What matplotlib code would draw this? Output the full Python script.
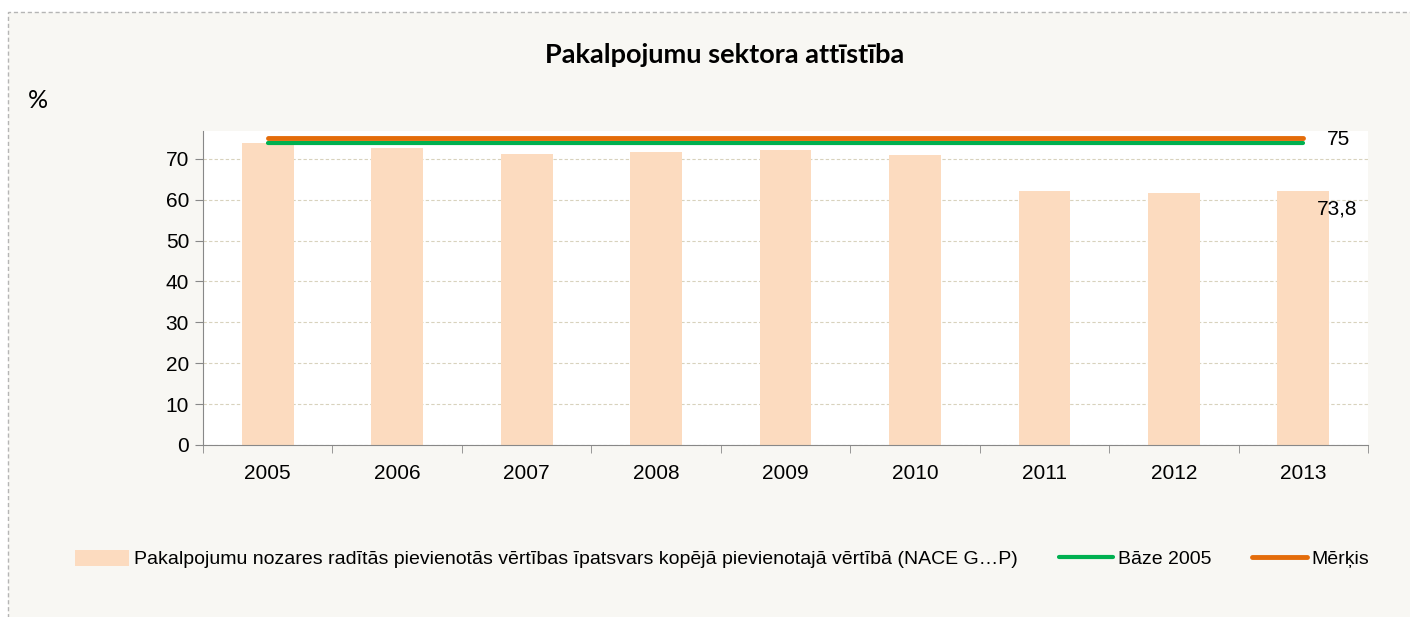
import matplotlib.pyplot as plt
from matplotlib.patches import Rectangle, Patch
from matplotlib.lines import Line2D

# Dati
gadi = ["2005", "2006", "2007", "2008", "2009", "2010", "2011", "2012", "2013"]
ipatsvars = [73.8, 72.6, 71.1, 71.7, 72.2, 71.0, 62.2, 61.7, 62.2]
baze_2005 = [73.8, 73.8, 73.8, 73.8, 73.8, 73.8, 73.8, 73.8, 73.8]
merkis = [75, 75, 75, 75, 75, 75, 75, 75, 75]
y_ticks = [0, 10, 20, 30, 40, 50, 60, 70]

bar_label = "Pakalpojumu nozares radītās pievienotās vērtības īpatsvars kopējā pievienotajā vērtībā (NACE G…P)"

plt.rcParams["font.family"] = ["Liberation Sans", "DejaVu Sans"]
fs = 14

fig = plt.figure(figsize=(14.1, 6.17), dpi=100)
fig.patch.set_facecolor("white")

# fons ar raustītu rāmi
fig.patches.append(Rectangle((8 / 1410, -0.02), 1.05, 1 - 12 / 617 + 0.02,
                             transform=fig.transFigure, facecolor="#f8f7f3",
                             edgecolor="#b5b5b5", linestyle=(0, (3, 2)),
                             linewidth=1, zorder=-5))

ax = fig.add_axes([203 / 1410, 1 - 445 / 617, (1368 - 203) / 1410, (445 - 131) / 617])
ax.set_facecolor("white")

x = list(range(len(gadi)))
ax.bar(x, ipatsvars, width=0.4, color="#fcdbbf", zorder=2)
ax.plot(x, baze_2005, color="#00b050", linewidth=3, solid_capstyle="round", zorder=3)
ax.plot(x, merkis, color="#e46c0a", linewidth=3.5, solid_capstyle="round", zorder=4)

ax.annotate("75", (x[-1], merkis[-1]), xytext=(24, -1), textcoords="offset pixels",
            fontsize=fs + 1, va="center", ha="left", annotation_clip=False)
ax.annotate("73,8", (x[-1], baze_2005[-1]), xytext=(14, -66), textcoords="offset pixels",
            fontsize=fs + 1, va="center", ha="left", annotation_clip=False)

ax.set_xlim(-0.5, len(gadi) - 0.5)
ax.set_ylim(0, 76.8)
ax.set_yticks(y_ticks)
ax.set_yticklabels([str(v) for v in y_ticks], fontsize=fs + 1)
ax.set_xticks(x)
ax.set_xticklabels(gadi, fontsize=fs + 1)
ax.tick_params(axis="x", length=0, pad=14)
ax.set_xticks([i - 0.5 for i in range(len(gadi) + 1)], minor=True)
ax.tick_params(axis="x", which="minor", length=6, color="#888888", direction="out")
ax.tick_params(axis="y", length=6, color="#888888", pad=4)

ax.grid(axis="y", color="#d8d2bd", linestyle=(0, (3, 2)), linewidth=0.8, zorder=1)
ax.set_axisbelow(True)
for s in ["top", "right"]:
    ax.spines[s].set_visible(False)
for s in ["left", "bottom"]:
    ax.spines[s].set_color("#888888")

fig.text(725 / 1410, 1 - 55 / 617, "Pakalpojumu sektora attīstība", ha="center", va="center",
         fontsize=19.5, fontweight="bold", family=["Lato", "DejaVu Sans"])
fig.text(28 / 1410, 1 - 100 / 617, "%", ha="left", va="center", fontsize=18,
         family=["Lato", "DejaVu Sans"])

handles = [Patch(facecolor="#fcdbbf", edgecolor="none"),
           Line2D([], [], color="#00b050", linewidth=3, solid_capstyle="round"),
           Line2D([], [], color="#e46c0a", linewidth=3.5, solid_capstyle="round")]
fig.legend(handles, [bar_label, "Bāze 2005", "Mērķis"], loc="center",
           bbox_to_anchor=(722 / 1410, 1 - 559 / 617), ncol=3, frameon=False,
           fontsize=fs, handlelength=2.8, handleheight=0.9, handletextpad=0.25,
           columnspacing=2.1)

plt.savefig("out.png", dpi=100)
